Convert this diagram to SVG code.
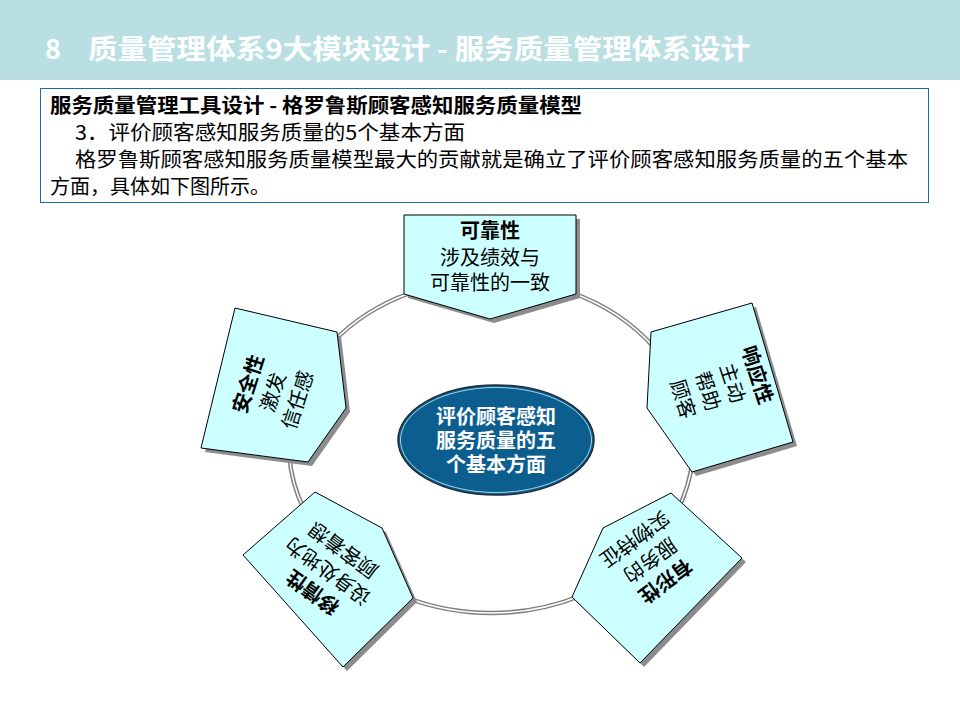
<svg xmlns="http://www.w3.org/2000/svg" width="960" height="720" viewBox="0 0 960 720">
<defs>
<style>
.t{font-family:"Noto Sans CJK SC","Noto Sans",sans-serif;fill:#000;}
.hd{font-family:"Noto Sans CJK SC","Noto Sans",sans-serif;fill:#fff;font-weight:bold;font-size:27px;}
.nt{font-family:"Noto Sans CJK SC","Noto Sans",sans-serif;font-size:20px;fill:#000;text-anchor:middle;}
.b{font-weight:bold;}
.pent{fill:#CCFFFF;stroke:#000;stroke-width:1;}
.shadow{fill:#8c8c8c;}
.c1{fill:none;stroke:#808080;stroke-width:4.5;}
.c2{fill:none;stroke:#fff;stroke-width:1.5;}
</style>
</defs>
<rect x="0" y="0" width="960" height="720" fill="#fff"/>
<rect x="0" y="0" width="960" height="80" fill="#B9DFE3"/>
<text class="hd" x="45" y="59">8</text>
<text class="hd" x="88" y="59" textLength="662" lengthAdjust="spacingAndGlyphs">质量管理体系9大模块设计 - 服务质量管理体系设计</text>

<g id="intro">
<rect x="40.5" y="88.5" width="888" height="114" fill="#fff" stroke="#1A6E9A" stroke-width="1"/>
<text class="t b" x="50" y="113" font-size="20" textLength="532" lengthAdjust="spacingAndGlyphs">服务质量管理工具设计 - 格罗鲁斯顾客感知服务质量模型</text>
<text class="t" x="75" y="140" font-size="20" textLength="390" lengthAdjust="spacingAndGlyphs">3．评价顾客感知服务质量的5个基本方面</text>
<text class="t" x="75" y="167" font-size="20" textLength="833" lengthAdjust="spacingAndGlyphs">格罗鲁斯顾客感知服务质量模型最大的贡献就是确立了评价顾客感知服务质量的五个基本</text>
<text class="t" x="50" y="194" font-size="20" textLength="220" lengthAdjust="spacingAndGlyphs">方面，具体如下图所示。</text>
</g>

<g id="connectors">
<path class="c1" d="M570,292 A202,167 0 0 1 655,348.5"/>
<path class="c2" d="M570,292 A202,167 0 0 1 655,348.5"/>
<path class="c1" d="M692.5,460 A202,167 0 0 1 677.6,510"/>
<path class="c2" d="M692.5,460 A202,167 0 0 1 677.6,510"/>
<path class="c1" d="M580,596 A202,167 0 0 1 405,597"/>
<path class="c2" d="M580,596 A202,167 0 0 1 405,597"/>
<path class="c1" d="M304.4,510 A202,167 0 0 1 289.3,455"/>
<path class="c2" d="M304.4,510 A202,167 0 0 1 289.3,455"/>
<path class="c1" d="M332,343 A202,167 0 0 1 410,293"/>
<path class="c2" d="M332,343 A202,167 0 0 1 410,293"/>
</g>

<g id="center">
<ellipse cx="496" cy="440" rx="98" ry="55" fill="#0B5E8E" stroke="#1c2c3c" stroke-width="1.5"/>
<ellipse cx="496" cy="440" rx="95.5" ry="52.5" fill="none" stroke="#a8d4ea" stroke-width="1"/>
<text class="nt b" x="496" y="424" style="fill:#fff">评价顾客感知</text>
<text class="nt b" x="496" y="448" style="fill:#fff">服务质量的五</text>
<text class="nt b" x="496" y="472" style="fill:#fff">个基本方面</text>
</g>

<g id="reliability">
<polygon class="shadow" transform="translate(4,4)" points="404,215 576,215 576,294 490,319 404,294"/>
<polygon class="pent" points="404,215 576,215 576,294 490,319 404,294"/>
<text class="nt b" x="490" y="238">可靠性</text>
<text class="nt" x="490" y="265">涉及绩效与</text>
<text class="nt" x="490" y="290">可靠性的一致</text>
</g>

<g id="responsiveness">
<polygon class="shadow" transform="translate(4,4)" points="752,303 793,442 692,472 647,408 651,332"/>
<polygon class="pent" points="752,303 793,442 692,472 647,408 651,332"/>
<g transform="translate(720,387) rotate(72)">
<text class="nt b" x="0" y="-32">响应性</text>
<text class="nt" x="0" y="-6">主动</text>
<text class="nt" x="0" y="20">帮助</text>
<text class="nt" x="0" y="46">顾客</text>
</g>
</g>

<g id="tangibles">
<polygon class="shadow" transform="translate(4,4)" points="671,493 742,558 640,663 572,597 603,528"/>
<polygon class="pent" points="671,493 742,558 640,663 572,597 603,528"/>
<g transform="translate(650,560) rotate(144)">
<text class="nt b" x="0" y="-19">有形性</text>
<text class="nt" x="0" y="7">服务的</text>
<text class="nt" x="0" y="33">实物特征</text>
</g>
</g>

<g id="empathy">
<polygon class="shadow" transform="translate(4,4)" points="315,492 382,528 413,598 343,667 243,555"/>
<polygon class="pent" points="315,492 382,528 413,598 343,667 243,555"/>
<g transform="translate(328,571) rotate(-144)">
<text class="nt b" x="0" y="-19">移情性</text>
<text class="nt" x="0" y="7">设身处地为</text>
<text class="nt" x="0" y="33">顾客着想</text>
</g>
</g>

<g id="assurance">
<polygon class="shadow" transform="translate(4,4)" points="235,308 337,332 346,408 308,462 201,448"/>
<polygon class="pent" points="235,308 337,332 346,408 308,462 201,448"/>
<g transform="translate(273,392) rotate(-72)">
<text class="nt b" x="0" y="-19">安全性</text>
<text class="nt" x="0" y="7">激发</text>
<text class="nt" x="0" y="33">信任感</text>
</g>
</g>
</svg>
